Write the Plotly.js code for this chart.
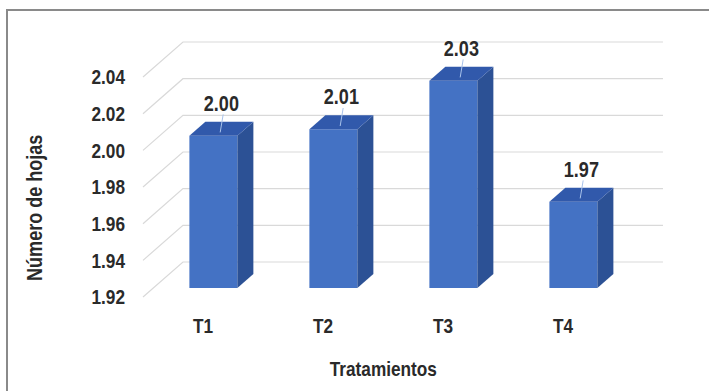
<!DOCTYPE html>
<html>
<head>
<meta charset="utf-8">
<script src="https://cdn.plot.ly/plotly-3.0.1.min.js"></script>
<style>
  html, body { margin: 0; padding: 0; background: #ffffff; overflow: hidden; }
  #chart { position: absolute; left: 0; top: 0; width: 709px; height: 391px; }
  #frame { position: absolute; left: 6px; top: 9px; width: 800px; height: 500px;
           border-left: 2px solid #8a8a8a; border-top: 2px solid #8a8a8a; pointer-events: none; }
</style>
</head>
<body>
<div id="chart"></div>
<div id="frame"></div>
<script>
// ---- data ----
const categories = ['T1', 'T2', 'T3', 'T4'];
const values = [2.003, 2.0065, 2.033, 1.967];
const yTicks = [1.92, 1.94, 1.96, 1.98, 2.00, 2.02, 2.04];
const baseValue = 1.92;
const xTitle = 'Tratamientos';
const yTitle = 'Número de hojas';

// ---- oblique 3D projection (style constants) ----
const DX = 0.333;   // category units per depth unit
const DY = 0.0191;  // value units per depth unit
const A = 0.26;     // bar front depth
const B = 0.66;     // bar back depth
const W = 0.4;      // bar width (category units)
const LABEL_PAD = 0.0030;

const FONT = '"Liberation Sans", Arial, sans-serif';
const WEIGHT = 'bold';
const CONDENSE = 0.82;   // narrow face emulation
const TXT = '#2a2a2a';
const GRID = '#d9d9d9';
const FRONT = '#4472C4';
const SIDE = '#2C5195';
const TOP = '#3159AB';

const L = 130, R = 19, T = 30, Bm = 80, WIDTH = 709, HEIGHT = 391;
const PW = WIDTH - L - R, PH = HEIGHT - T - Bm;

const xs = categories.map((c, i) => i);
const xMin = -0.5, xMax = categories.length - 0.5;

const traces = [];

// back wall gridlines + side wall diagonals
const gx = [], gy = [];
yTicks.forEach(g => {
  gx.push(xMin, xMin + DX, xMax + DX, null);
  gy.push(g, g + DY, g + DY, null);
});
traces.push({type: 'scatter', mode: 'lines', x: gx, y: gy,
  line: {color: GRID, width: 1.2}, hoverinfo: 'skip', showlegend: false});

// bars: front, side and top faces
xs.forEach((i, k) => {
  const v = values[k];
  const x0 = i + A * DX - W / 2, x1 = i + A * DX + W / 2;
  const d = (B - A) * DX;
  const yb = baseValue + A * DY;
  traces.push({type: 'scatter', mode: 'lines', fill: 'toself', fillcolor: FRONT,
    x: [x0, x1, x1, x0, x0],
    y: [yb, yb, v + A * DY, v + A * DY, yb],
    line: {width: 0, color: FRONT}, hoverinfo: 'skip', showlegend: false});
  traces.push({type: 'scatter', mode: 'lines', fill: 'toself', fillcolor: SIDE,
    x: [x1, x1 + d, x1 + d, x1, x1],
    y: [yb, baseValue + B * DY, v + B * DY, v + A * DY, yb],
    line: {width: 0, color: SIDE}, hoverinfo: 'skip', showlegend: false});
  traces.push({type: 'scatter', mode: 'lines', fill: 'toself', fillcolor: TOP,
    x: [x0, x1, x1 + d, x0 + d, x0],
    y: [v + A * DY, v + A * DY, v + B * DY, v + B * DY, v + A * DY],
    line: {width: 0, color: TOP}, hoverinfo: 'skip', showlegend: false});
  // leader line
  const xm = i + (A + B) / 2 * DX;
  traces.push({type: 'scatter', mode: 'lines',
    x: [xm - 0.01, xm + 0.015],
    y: [v + (A + B) / 2 * DY - 0.002, v + B * DY + LABEL_PAD + 0.001],
    line: {width: 1, color: '#a8c2ea'}, hoverinfo: 'skip', showlegend: false});
});

// data labels
traces.push({
  type: 'scatter', mode: 'text',
  x: xs.map(i => i + (A + B) / 2 * DX),
  y: values.map(v => v + B * DY + LABEL_PAD),
  text: values.map(v => v.toFixed(2)),
  textposition: 'top center',
  textfont: {family: FONT, size: 22, color: TXT, weight: WEIGHT},
  hoverinfo: 'skip', showlegend: false
});

const px2x = p => (p - L) / PW;
const py2y = p => (HEIGHT - Bm - p) / PH;

const layout = {
  width: WIDTH, height: HEIGHT,
  margin: {l: L, r: R, t: T, b: Bm, pad: 0},
  paper_bgcolor: '#ffffff', plot_bgcolor: '#ffffff',
  font: {family: FONT, size: 21, color: TXT},
  showlegend: false,
  xaxis: {
    range: [-0.6083, 4.0583], fixedrange: true,
    tickvals: xs, ticktext: categories,
    showgrid: false, zeroline: false, showline: false, ticks: '',
    tickfont: {family: FONT, size: 21, color: TXT, weight: WEIGHT}
  },
  yaxis: {
    range: [1.91236, 2.06566], fixedrange: true,
    tickvals: yTicks, ticktext: yTicks.map(t => t.toFixed(2)),
    showgrid: false, zeroline: false, showline: false, ticks: '',
    ticklabelstandoff: 4,
    tickfont: {family: FONT, size: 21, color: TXT, weight: WEIGHT}
  },
  annotations: [
    {text: yTitle, xref: 'paper', yref: 'paper', x: px2x(34), y: py2y(208),
     xanchor: 'center', yanchor: 'middle', textangle: -90, showarrow: false,
     font: {family: FONT, size: 22, color: TXT, weight: WEIGHT}},
    {text: xTitle, xref: 'paper', yref: 'paper', x: px2x(383), y: py2y(368),
     xanchor: 'center', yanchor: 'middle', showarrow: false,
     font: {family: FONT, size: 21, color: TXT, weight: WEIGHT}}
  ]
};

function condense() {
  const svg = document.querySelectorAll('#chart svg text');
  svg.forEach(t => {
    const len = t.getComputedTextLength();
    if (len > 0) {
      t.setAttribute('textLength', (len * CONDENSE).toFixed(2));
      t.setAttribute('lengthAdjust', 'spacingAndGlyphs');
    }
  });
}

Plotly.newPlot('chart', traces, layout, {staticPlot: true, displayModeBar: false}).then(condense);
</script>
</body>
</html>
